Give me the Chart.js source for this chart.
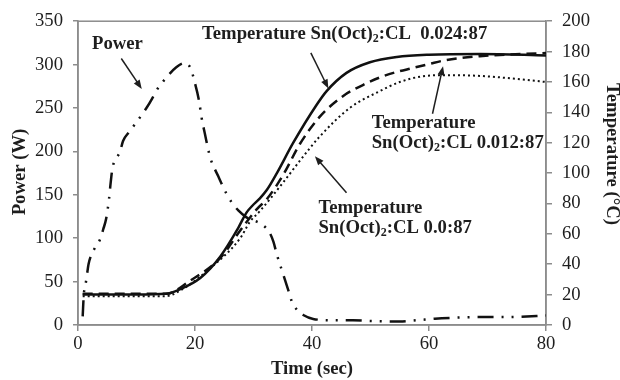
<!DOCTYPE html>
<html>
<head>
<meta charset="utf-8">
<script src="https://cdn.jsdelivr.net/npm/chart.js@4"></script>
<style>
  html, body { margin: 0; padding: 0; background: #fff; }
  #wrap { width: 620px; height: 380px; }
</style>
</head>
<body>
<div id="wrap"><canvas id="chart" width="620" height="380"></canvas></div>
<script>
// Microwave power and temperature traces vs time
const powerTime = [0.8, 1.0, 1.2, 1.5, 1.8, 2.9, 3.8, 4.3, 4.8, 5.3, 5.6, 5.9, 7.2, 7.7, 8.7, 9.7, 11.7, 12.6, 13.4, 14.6, 16.8, 18.3, 19.3, 19.9, 20.7, 21.1, 21.7, 22.6, 24, 25.4, 26.3, 27.4, 28.8, 31.4, 32.7, 33.4, 34, 35.1, 36, 36.5, 37.5, 38.5, 40.2, 43.6, 47, 50, 55, 58, 61, 64.4, 70, 73, 78.4, 80];
const powerW = [10, 36, 43, 56, 70, 89, 99, 110, 122, 145, 165, 181, 200, 212, 222, 231, 250, 260, 270, 281, 297, 302, 295, 281, 258, 240, 220, 193, 171, 151, 141, 132, 124, 116, 107, 96, 81, 58, 39, 28, 17, 11.5, 7, 5.5, 5.4, 4.6, 4, 5.5, 7.3, 8.4, 9.2, 9.2, 10.4, 11];

const time024 = [0.8, 5, 10, 15, 17.4, 20.9, 24.3, 27.4, 28.8, 29.8, 31, 32.3, 34, 36.8, 40.8, 42.5, 45.9, 49.9, 54.5, 60, 68.7, 80];
const temp024 = [20, 20, 20, 20.5, 23.5, 31, 45, 64, 74, 78.5, 83, 89, 100, 120, 145, 154, 166, 173, 176.5, 178, 178.5, 177.5];

const time012 = [0.8, 5, 10, 15, 19.1, 24.3, 27.7, 30.5, 32.3, 35.1, 37.9, 41.3, 45.4, 48.7, 51.6, 54.4, 57, 60.2, 62.4, 68.7, 80];
const temp012 = [20.5, 20.5, 20.5, 20.5, 29, 44, 62, 76, 83, 99, 119, 137, 151, 158, 163, 166.5, 169, 172, 174, 177, 179];

const time000 = [0.8, 5, 10, 15, 17.4, 23.1, 27.7, 29.4, 31.1, 35.1, 37.9, 41.3, 46.5, 51.6, 55, 58.5, 62, 68.7, 75, 80];
const temp000 = [19, 19, 19, 19, 22.5, 39, 57, 68, 75, 94, 108, 124, 143, 154, 160, 163.5, 164.5, 164, 162, 160];

const powerTicks = [0, 50, 100, 150, 200, 250, 300, 350];
const tempTicks = [0, 20, 40, 60, 80, 100, 120, 140, 160, 180, 200];
const timeTicks = [0, 20, 40, 60, 80];

const pairs = (xs, ys) => xs.map((x, i) => ({ x: x, y: ys[i] }));

const FONT = '"Liberation Serif", "Times New Roman", serif';
const INK = '#1e1e1e';
const AXIS = '#8c8c8c';

// text callouts with arrows, anchored in time / power units
const callouts = [
  { x: 2.4, lines: [[{ t: 'Power' }]], ys: [323.5], arrow: [7.4, 307, 10.9, 272] },
  { x: 21.2, lines: [[{ t: 'Temperature Sn(Oct)' }, { t: '2', sub: true }, { t: ':CL  0.024:87' }]], ys: [335], arrow: [39.8, 313.5, 42.8, 272.5] },
  { x: 50.2, lines: [[{ t: 'Temperature' }], [{ t: 'Sn(Oct)' }, { t: '2', sub: true }, { t: ':CL 0.012:87' }]], ys: [232.9, 209.9], arrow: [60.6, 243.4, 62.4, 298.2] },
  { x: 41.1, lines: [[{ t: 'Temperature' }], [{ t: 'Sn(Oct)' }, { t: '2', sub: true }, { t: ':CL 0.0:87' }]], ys: [135, 112], arrow: [45.9, 152.3, 40.5, 194.5] }
];

function drawLine(ctx, x, y, segs) {
  let cx = x;
  segs.forEach(s => {
    if (s.sub) {
      ctx.font = 'bold 12px ' + FONT;
      ctx.fillText(s.t, cx, y + 5);
    } else {
      ctx.font = 'bold 18.7px ' + FONT;
      ctx.fillText(s.t, cx, y);
    }
    cx += ctx.measureText(s.t).width;
  });
}

function drawArrow(ctx, x1, y1, x2, y2) {
  const a = Math.atan2(y2 - y1, x2 - x1);
  const len = 9, half = 3.5;
  ctx.beginPath();
  ctx.moveTo(x1, y1);
  ctx.lineTo(x2 - Math.cos(a) * len * 0.8, y2 - Math.sin(a) * len * 0.8);
  ctx.stroke();
  ctx.beginPath();
  ctx.moveTo(x2, y2);
  ctx.lineTo(x2 - Math.cos(a) * len - Math.sin(a) * half, y2 - Math.sin(a) * len + Math.cos(a) * half);
  ctx.lineTo(x2 - Math.cos(a) * len + Math.sin(a) * half, y2 - Math.sin(a) * len - Math.cos(a) * half);
  ctx.closePath();
  ctx.fill();
}

function drawVertical(ctx, text, x, y, angle) {
  ctx.save();
  ctx.translate(x, y);
  ctx.rotate(angle);
  ctx.textAlign = 'center';
  ctx.textBaseline = 'middle';
  ctx.font = 'bold 18.7px ' + FONT;
  ctx.fillText(text, 0, 0);
  ctx.restore();
}

const decor = {
  id: 'decor',
  beforeDatasetsDraw(chart) {
    const { ctx, chartArea: a } = chart;
    ctx.save();
    ctx.strokeStyle = AXIS;
    ctx.lineWidth = 1.5;
    ctx.strokeRect(a.left, a.top, a.right - a.left, a.bottom - a.top);
    ctx.restore();
  },
  afterDraw(chart) {
    const { ctx, scales } = chart;
    const sx = scales.x, sy = scales.y;
    ctx.save();
    ctx.fillStyle = INK;
    ctx.strokeStyle = INK;
    ctx.lineWidth = 1.5;
    // side axis titles
    drawVertical(ctx, 'Power (W)', 20, 172, -Math.PI / 2);
    drawVertical(ctx, 'Temperature (°C)', 612, 154, Math.PI / 2);
    ctx.textBaseline = 'middle';
    ctx.textAlign = 'left';
    callouts.forEach(c => {
      c.lines.forEach((segs, i) => drawLine(ctx, sx.getPixelForValue(c.x), sy.getPixelForValue(c.ys[i]), segs));
      const [t1, p1, t2, p2] = c.arrow;
      drawArrow(ctx, sx.getPixelForValue(t1), sy.getPixelForValue(p1), sx.getPixelForValue(t2), sy.getPixelForValue(p2));
    });
    ctx.restore();
  }
};

const tickFont = { family: FONT, size: 18.7 };
const titleFont = { family: FONT, size: 18.7, weight: 'bold' };

new Chart(document.getElementById('chart'), {
  type: 'line',
  data: {
    datasets: [
      {
        label: 'Power',
        data: pairs(powerTime, powerW),
        yAxisID: 'y',
        borderColor: '#111',
        borderWidth: 2.5,
        borderDash: [16, 8, 2, 8, 2, 8],
        cubicInterpolationMode: 'monotone',
        pointRadius: 0,
        fill: false
      },
      {
        label: 'Temperature Sn(Oct)2:CL 0.024:87',
        data: pairs(time024, temp024),
        yAxisID: 'y2',
        borderColor: '#111',
        borderWidth: 2.5,
        cubicInterpolationMode: 'monotone',
        pointRadius: 0,
        fill: false
      },
      {
        label: 'Temperature Sn(Oct)2:CL 0.012:87',
        data: pairs(time012, temp012),
        yAxisID: 'y2',
        borderColor: '#111',
        borderWidth: 2.5,
        borderDash: [10, 6],
        cubicInterpolationMode: 'monotone',
        pointRadius: 0,
        fill: false
      },
      {
        label: 'Temperature Sn(Oct)2:CL 0.0:87',
        data: pairs(time000, temp000),
        yAxisID: 'y2',
        borderColor: '#111',
        borderWidth: 2,
        borderDash: [2, 3],
        cubicInterpolationMode: 'monotone',
        pointRadius: 0,
        fill: false
      }
    ]
  },
  options: {
    responsive: false,
    animation: false,
    layout: { padding: { top: 21, left: 0, right: 0, bottom: 0 } },
    plugins: { legend: { display: false }, tooltip: { enabled: false } },
    scales: {
      x: {
        type: 'linear',
        min: 0, max: 80,
        afterBuildTicks: s => { s.ticks = timeTicks.map(v => ({ value: v })); },
        afterFit: s => { s.height = 55; },
        grid: { drawOnChartArea: false, color: AXIS, tickLength: 6, lineWidth: 1.5 },
        border: { color: AXIS, width: 1.5 },
        ticks: { font: tickFont, color: INK, padding: 2, maxRotation: 0 },
        title: { display: true, text: 'Time (sec)', font: titleFont, color: INK, padding: { top: 0, bottom: 0 } }
      },
      y: {
        position: 'left',
        min: 0, max: 350,
        afterBuildTicks: s => { s.ticks = powerTicks.map(v => ({ value: v })); },
        afterFit: s => { s.width = 78; },
        grid: { drawOnChartArea: false, color: AXIS, tickLength: 5, lineWidth: 1.5 },
        border: { color: AXIS, width: 1.5 },
        ticks: { font: tickFont, color: INK, padding: 10 }
      },
      y2: {
        position: 'right',
        min: 0, max: 200,
        afterBuildTicks: s => { s.ticks = tempTicks.map(v => ({ value: v })); },
        afterFit: s => { s.width = 74; },
        grid: { drawOnChartArea: false, color: AXIS, tickLength: 6, lineWidth: 1.5 },
        border: { color: AXIS, width: 1.5 },
        ticks: { font: tickFont, color: INK, padding: 10 }
      }
    }
  },
  plugins: [decor]
});
</script>
</body>
</html>
